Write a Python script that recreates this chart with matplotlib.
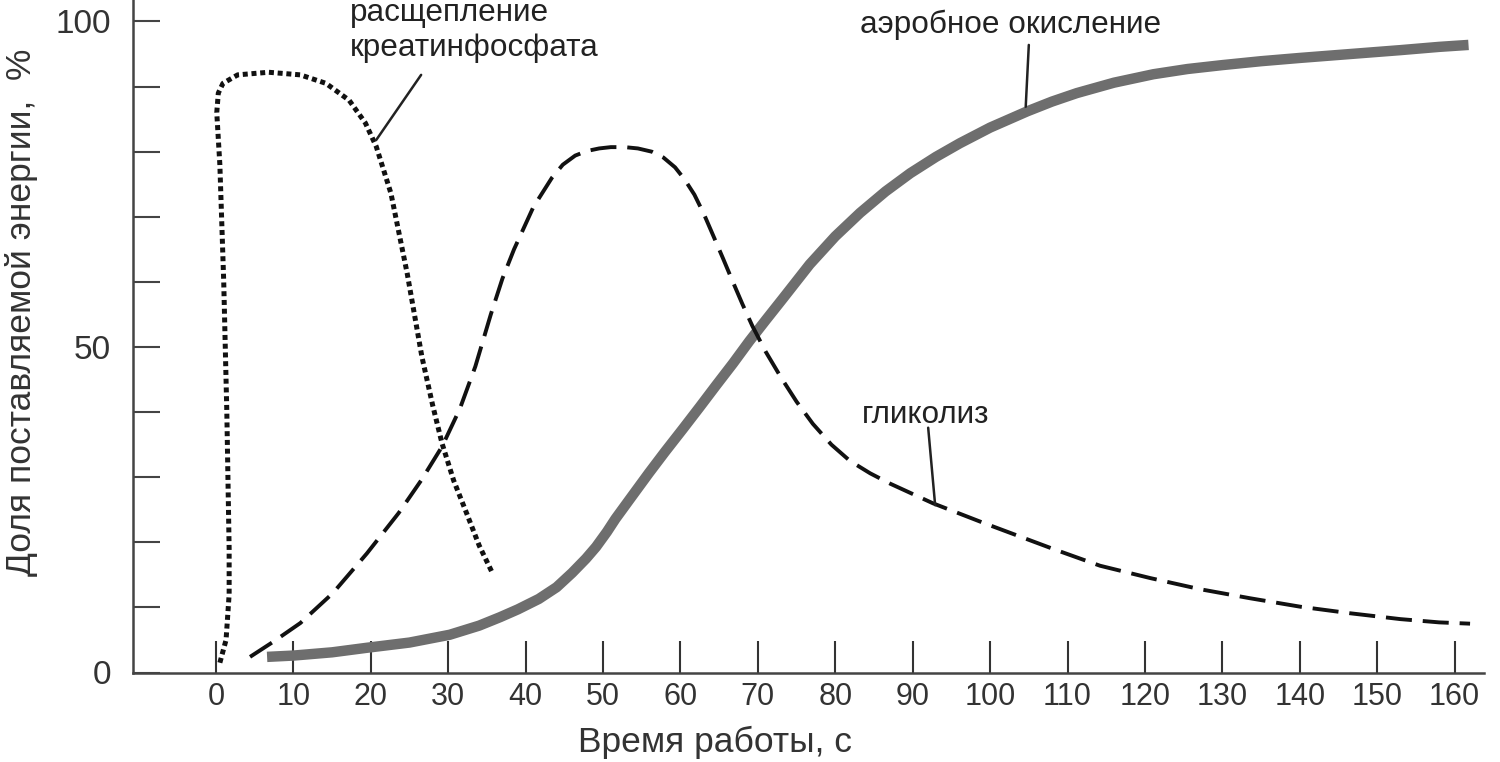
import numpy as np
import matplotlib
matplotlib.use("Agg")
import matplotlib.pyplot as plt

plt.rcParams['font.family'] = ['Liberation Sans', 'DejaVu Sans']

# аэробное окисление
aer_x = [6.6, 10, 15, 19.5, 25, 30.2, 34, 36.7, 39, 41.7, 44, 46.0, 47.8, 49.1, 50.5, 51.6,
         53.5, 55.9, 58, 60.3, 62.5, 64.6, 66.8, 68.9, 71, 73.2, 76.7, 80, 83.2, 86.5, 89.7,
         93, 96.1, 100, 104.8, 108, 111.2, 116, 121.1, 125.5, 130, 135, 140, 146.5, 153, 158, 161.8]
aer_y = [2.4, 2.6, 3.1, 3.8, 4.6, 5.8, 7.2, 8.5, 9.7, 11.3, 13.1, 15.3, 17.5, 19.3, 21.6, 23.6,
         26.7, 30.6, 33.9, 37.4, 40.8, 44.1, 47.5, 50.9, 54.1, 57.4, 62.7, 67, 70.6, 73.9, 76.7,
         79.2, 81.3, 83.7, 86.2, 87.7, 89, 90.6, 91.9, 92.7, 93.3, 93.9, 94.4, 95, 95.6, 96.1, 96.4]

# гликолиз
gly_x = [4.4, 7.5, 10.9, 15.1, 19.5, 23.6, 26.5, 29.2, 31.5, 33.5, 35.5, 37, 38.5, 41.0, 43.4,
         44.8, 46.4, 47.9, 49.5, 51, 52.8, 54.5, 56.3, 57.8, 59.3, 60.5, 61.8, 63, 64.2, 65.5,
         66.7, 68, 69.3, 71, 73, 75, 77.1, 79.5, 81.9, 84.5, 87.1, 92.6, 99.1, 108.1, 114.2,
         120.7, 127.1, 133.6, 140.1, 146.5, 153, 158, 162]
gly_y = [2.4, 4.8, 7.6, 12.2, 18.3, 24.5, 29.5, 34.7, 40.5, 47, 55, 60.5, 65, 71.5, 76.0,
         78.0, 79.4, 80.1, 80.5, 80.7, 80.7, 80.5, 80.0, 79.1, 77.6, 75.8, 73.4, 70.5, 67.2, 63.6,
         60.2, 56.6, 53.2, 49.3, 45.3, 41.6, 38.2, 35.0, 32.5, 30.6, 29.0, 26, 23, 19, 16.4,
         14.5, 12.8, 11.4, 10.1, 9.1, 8.2, 7.7, 7.5]

# расщепление креатинфосфата
cp_x = [0.5, 1.3, 1.7, 1.7, 1.4, 1.0, 0.5, 0.1, 0.3, 0.9, 2.8, 6.8, 10.9, 14.2, 17.2, 19.3,
        20.7, 22.6, 24.7, 26.6, 28.0, 29.2, 30.7, 32.2, 34.0, 35.7]
cp_y = [1.5, 5, 12, 19, 40, 60, 78, 86, 89, 90.5, 91.8, 92.2, 91.8, 90.5, 87.9, 84.4,
        80.8, 73.6, 61.3, 48.5, 41, 35.2, 29.5, 25.0, 19.5, 15.3]

xticks = list(range(0, 161, 10))
yticks = list(range(0, 101, 10))
ylabels = ['0' if v == 0 else '50' if v == 50 else '100' if v == 100 else '' for v in yticks]

fig = plt.figure(figsize=(15, 7.62), dpi=100)
ax = fig.add_axes([133/1500, 1 - 672.5/762, 1351/1500, 672.5/762])

ax.plot(aer_x, aer_y, color='#6e6e6e', lw=7.5, solid_capstyle='butt', zorder=2)
ax.plot(gly_x, gly_y, color='#111111', lw=2.8, linestyle=(0, (6.7, 2.8)), dash_capstyle='butt', zorder=3)
ax.plot(cp_x, cp_y, color='#111111', lw=3.6, linestyle=(0, (1, 0.75)), dash_capstyle='butt', zorder=3)

ax.set_xlim(-10.72, 163.8)
ax.set_ylim(0, 103.3)
for s in ['top', 'right']:
    ax.spines[s].set_visible(False)
for s in ['left', 'bottom']:
    ax.spines[s].set_color('#444444')
    ax.spines[s].set_linewidth(1.8)

ax.set_xticks(xticks)
ax.set_xticklabels([str(v) for v in xticks])
ax.set_yticks(yticks)
ax.set_yticklabels(ylabels)
ax.tick_params(axis='x', direction='in', length=23, width=1.5, color='#333333',
               labelsize=22, labelcolor='#333333', pad=7)
ax.tick_params(axis='y', direction='in', length=19.5, width=1.5, color='#444444',
               labelsize=24, labelcolor='#333333', pad=16)

fig.text(715/1500, 1 - 742/762, 'Время работы, с', ha='center', va='center',
         fontsize=25.5, color='#333333')
fig.text(22/1500, 1 - 312/762, 'Доля поставляемой энергии,  %', ha='center', va='center',
         rotation=90, fontsize=25.5, color='#333333')

ax.text(102.6, 99.5, 'аэробное окисление', ha='center', va='center', fontsize=22.7, color='#222222')
ax.annotate('', xy=(104.6, 86.9), xytext=(105.0, 96.4),
            arrowprops=dict(arrowstyle='-', color='#222222', lw=1.8, shrinkA=0, shrinkB=0))

ax.text(91.7, 39.6, 'гликолиз', ha='center', va='center', fontsize=22.7, color='#222222')
ax.annotate('', xy=(92.9, 25.7), xytext=(92.0, 37.6),
            arrowprops=dict(arrowstyle='-', color='#222222', lw=1.8, shrinkA=0, shrinkB=0))

ax.text(17.3, 98.6, 'расщепление\nкреатинфосфата', ha='left', va='center', fontsize=22.7,
        color='#222222', linespacing=1.2)
ax.annotate('', xy=(20.7, 81.8), xytext=(26.5, 91.8),
            arrowprops=dict(arrowstyle='-', color='#222222', lw=1.8, shrinkA=0, shrinkB=0))

fig.savefig('out.png', dpi=100)
